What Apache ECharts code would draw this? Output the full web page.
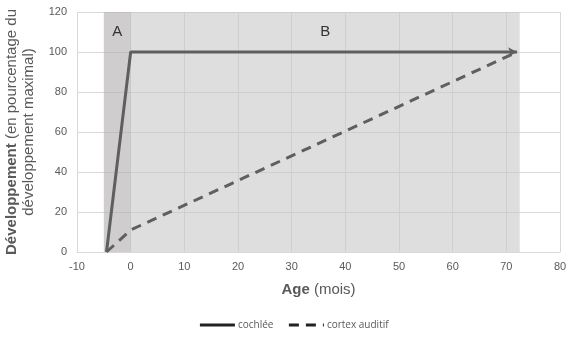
<!DOCTYPE html>
<html><head><meta charset="utf-8">
<script src="https://cdn.jsdelivr.net/npm/echarts@6/dist/echarts.min.js"></script>
<style>html,body{margin:0;padding:0;background:#fff}#c{width:587px;height:342px}</style>
</head><body><div id="c"></div>
<script>
const seriesNames = ['cochlée', 'cortex auditif'];
const cochleeData = [[-4.5, 0], [0, 100], [72, 100]];
const cortexData = [[-4.5, 0], [0, 11], [72, 100]];
const regionLabels = ['A', 'B'];
const regionBounds = [[-5, 0], [0, 72.5]];
const xTicks = [-10, 0, 10, 20, 30, 40, 50, 60, 70, 80];
const yTicks = [0, 20, 40, 60, 80, 100, 120];

const txt = '#595959';
const lineCol = '#5f5f5f';
const chart = echarts.init(document.getElementById('c'), null, {renderer: 'canvas'});

function withArrow(arr) {
  return arr.map((p, i) => i === arr.length - 1
    ? {value: p, symbol: 'arrow', symbolSize: [7, 9], symbolRotate: -90, itemStyle: {color: lineCol}}
    : {value: p, symbol: 'none'});
}

chart.setOption({
  animation: false,
  grid: {left: 77, right: 27, top: 12, bottom: 90, containLabel: false, outerBoundsMode: 'none'},
  legend: {
    bottom: 7, left: 'center', itemWidth: 35, itemHeight: 10, itemGap: 14,
    itemStyle: {opacity: 0, borderWidth: 0},
    lineStyle: {width: 3, color: '#222'},
    textStyle: {color: txt, fontSize: 10, fontFamily: 'Open Sans', padding: [0, 0, 0, -2]},
    data: seriesNames
  },
  xAxis: {
    type: 'value', min: xTicks[0], max: xTicks[xTicks.length - 1], interval: 10,
    name: '{b|Age} (mois)', nameLocation: 'middle', nameGap: 30,
    nameTextStyle: {color: txt, fontSize: 15, fontFamily: 'Liberation Sans',
      rich: {b: {fontWeight: 'bold', fontSize: 15, color: txt, fontFamily: 'Liberation Sans'}}},
    axisLine: {show: true, lineStyle: {color: '#d9d9d9'}},
    axisTick: {show: false},
    axisLabel: {color: txt, fontSize: 11, margin: 9, fontFamily: 'Liberation Sans'},
    splitLine: {show: true, lineStyle: {color: '#d9d9d9'}}
  },
  yAxis: {
    type: 'value', min: yTicks[0], max: yTicks[yTicks.length - 1], interval: 20,
    name: '{b|Développement} (en pourcentage du\ndéveloppement maximal)',
    nameLocation: 'middle', nameRotate: 90, nameGap: 36,
    nameTextStyle: {color: txt, fontSize: 15, lineHeight: 17, align: 'center', fontFamily: 'Liberation Sans',
      rich: {b: {fontWeight: 'bold', fontSize: 15, lineHeight: 17, color: txt, fontFamily: 'Liberation Sans'}}},
    axisLine: {show: false},
    axisTick: {show: false},
    axisLabel: {color: txt, fontSize: 11, margin: 10, fontFamily: 'Liberation Sans'},
    splitLine: {show: true, lineStyle: {color: '#d9d9d9'}}
  },
  series: [
    {
      name: seriesNames[0], type: 'line', data: withArrow(cochleeData),
      symbol: 'none', color: lineCol,
      lineStyle: {color: lineCol, width: 3},
      markArea: {
        silent: true,
        label: {show: true, position: 'insideTop', distance: 12, color: '#333', fontSize: 15, fontFamily: 'Liberation Sans'},
        data: [
          [{name: regionLabels[0], xAxis: regionBounds[0][0], yAxis: 121, itemStyle: {color: 'rgba(175,172,172,0.6)'}},
           {xAxis: regionBounds[0][1], yAxis: 0}],
          [{name: regionLabels[1], xAxis: regionBounds[1][0], yAxis: 121, itemStyle: {color: 'rgba(200,200,200,0.6)'}},
           {xAxis: regionBounds[1][1], yAxis: 0}]
        ]
      },
      z: 3
    },
    {
      name: seriesNames[1], type: 'line', data: cortexData,
      symbol: 'none', color: lineCol,
      lineStyle: {color: lineCol, width: 3, type: [10, 7]},
      z: 3
    }
  ]
});
</script></body></html>
